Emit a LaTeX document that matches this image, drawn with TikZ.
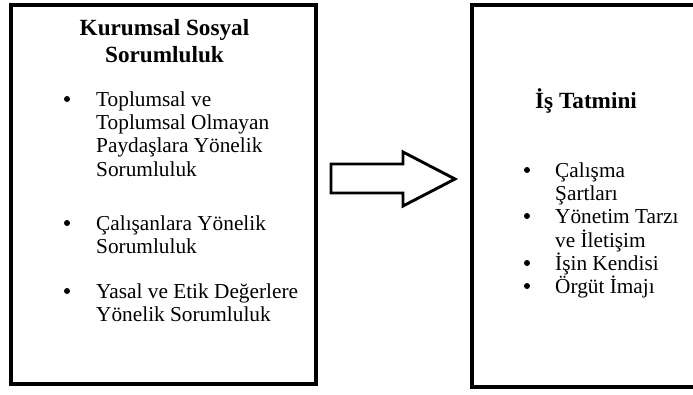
\documentclass[tikz,border=0pt]{standalone}
\usepackage{fontspec}
\setmainfont{Liberation Serif}
\newcommand{\bodyfont}{\fontsize{21.3}{23.4}\selectfont}
\newcommand{\headfont}{\fontsize{23.2}{27}\selectfont\bfseries}
\tikzset{
  frame/.style={draw=black, line width=3.3pt, inner sep=0pt},
  head/.style={inner sep=0pt, font=\headfont},
  item/.style={inner sep=0pt, anchor=base west, font=\bodyfont},
  dot/.style={circle, fill=black, inner sep=0pt, minimum size=6pt}
}
\begin{document}
\begin{tikzpicture}[x=1pt,y=-1pt]
\useasboundingbox (0,0) rectangle (693,394);
% the two boxes
\node[frame, minimum width=305pt, minimum height=379pt] (ksr) at (163.5,194.5) {};
\node[frame, minimum width=232pt, minimum height=382pt] (ist) at (588,196) {};
% block arrow between them
\draw[line width=2.9pt, line join=miter] (331,164)--(403,164)--(403,152)--(455,179)
  --(403,206)--(403,193)--(331,193)--cycle;
% left box text
\node[head, anchor=base] (ksrhead) at (164.5,35)
  {\begin{tabular}[t]{@{}c@{}}Kurumsal Sosyal\\ Sorumluluk\end{tabular}};
\node[dot] (b1) at (67,99) {};
\node[item] (i1) at (96,106)
  {\begin{tabular}[t]{@{}l@{}}Toplumsal ve\\ Toplumsal Olmayan\\ Paydaşlara Yönelik\\ Sorumluluk\end{tabular}};
\node[dot] (b2) at (67,223) {};
\node[item] (i2) at (96,230)
  {\begin{tabular}[t]{@{}l@{}}Çalışanlara Yönelik\\ Sorumluluk\end{tabular}};
\node[dot] (b3) at (67,291) {};
\node[item] (i3) at (96,298)
  {\begin{tabular}[t]{@{}l@{}}Yasal ve Etik Değerlere\\ Yönelik Sorumluluk\end{tabular}};
% right box text
\node[head, anchor=base west] (isthead) at (535,108) {İş Tatmini};
\node[dot] (c1) at (527,170) {};
\node[item] (j1) at (555,177)
  {\begin{tabular}[t]{@{}l@{}}Çalışma\\ Şartları\end{tabular}};
\node[dot] (c2) at (527,216) {};
\node[item] (j2) at (555,223)
  {\begin{tabular}[t]{@{}l@{}}Yönetim Tarzı\\ ve İletişim\end{tabular}};
\node[dot] (c3) at (527,263) {};
\node[item] (j3) at (555,270) {İşin Kendisi};
\node[dot] (c4) at (527,286) {};
\node[item] (j4) at (555,293) {Örgüt İmajı};
\end{tikzpicture}
\end{document}
